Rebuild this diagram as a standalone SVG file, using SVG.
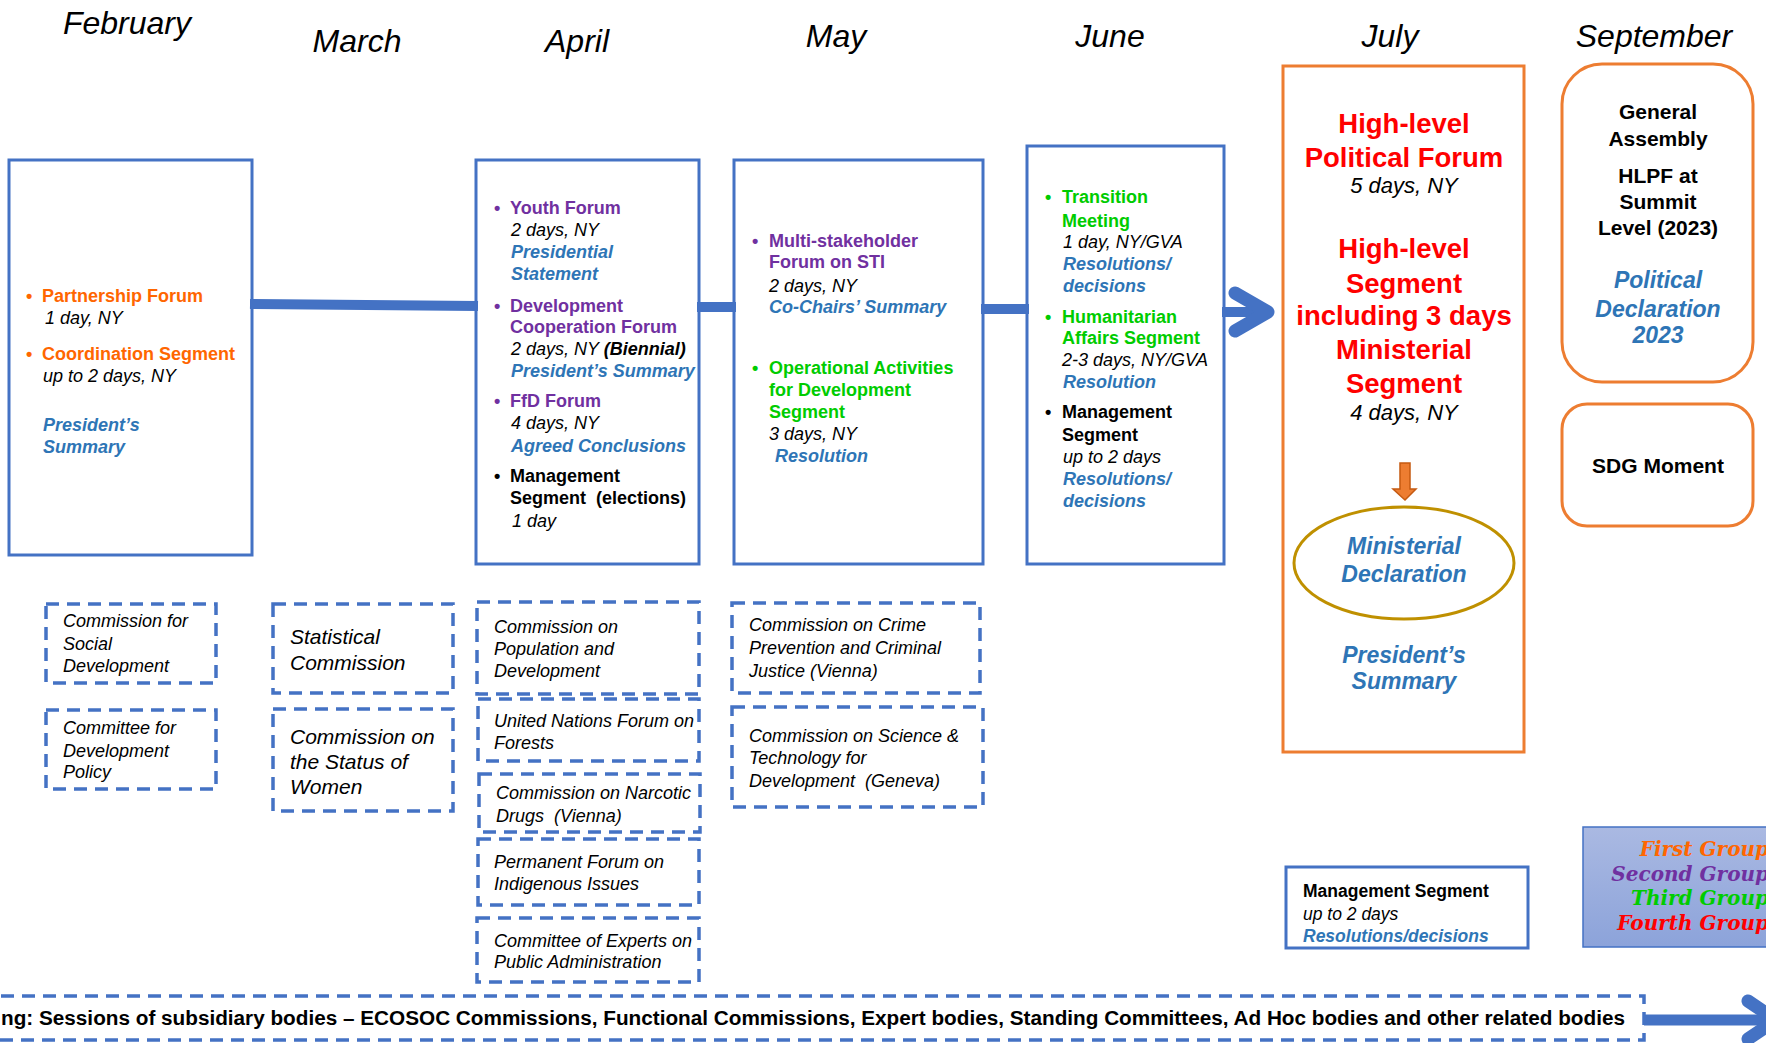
<svg xmlns="http://www.w3.org/2000/svg" width="1766" height="1043" viewBox="0 0 1766 1043">
<defs>
<style>
text{font-family:"Liberation Sans",Arial,sans-serif;white-space:pre;}
.mon{font-size:32px;font-style:italic;text-anchor:middle;fill:#000;}
.box{fill:#fff;stroke:#4472C4;stroke-width:3;}
.dash{fill:none;stroke:#4472C4;stroke-width:3.5;stroke-dasharray:13 8;}
.t{font-size:18px;}
.b{font-weight:bold;}
.i{font-style:italic;}
.bi{font-weight:bold;font-style:italic;fill:#2E75B6;}
.or{fill:#FF6600;}
.pu{fill:#7030A0;}
.gr{fill:#00CC00;}
.rd{fill:#FF0000;}
.sub{font-size:18px;font-style:italic;fill:#000;}
.sub21{font-size:21px;font-style:italic;fill:#000;}
.ctr{text-anchor:middle;}
.conn{stroke:#4472C4;fill:none;}
.leg{font-family:"DejaVu Serif","Liberation Serif",serif;font-weight:bold;font-style:italic;font-size:20px;text-anchor:end;}
</style>
<linearGradient id="lg" x1="0" y1="0" x2="0" y2="1">
<stop offset="0" stop-color="#AAB9E2"/>
<stop offset="1" stop-color="#8CA3DA"/>
</linearGradient>
</defs>
<rect width="1766" height="1043" fill="#fff"/>

<g id="months">
<text class="mon" x="127" y="34">February</text>
<text class="mon" x="357" y="52">March</text>
<text class="mon" x="577" y="52">April</text>
<text class="mon" x="836" y="47">May</text>
<text class="mon" x="1110" y="47">June</text>
<text class="mon" x="1390" y="47">July</text>
<text class="mon" x="1654" y="47">September</text>
</g>

<g id="feb">
<rect class="box" x="9" y="160" width="243" height="395"/>
<text class="t b or" x="26" y="302">•</text>
<text class="t b or" x="42" y="302">Partnership Forum</text>
<text class="t i" x="45" y="324">1 day, NY</text>
<text class="t b or" x="26" y="360">•</text>
<text class="t b or" x="42" y="360">Coordination Segment</text>
<text class="t i" x="43" y="382">up to 2 days, NY</text>
<text class="t bi" x="43" y="431">President’s</text>
<text class="t bi" x="43" y="453">Summary</text>
</g>

<g id="april">
<rect class="box" x="476" y="160" width="223" height="404"/>
<text class="t b pu" x="494" y="214">•</text>
<text class="t b pu" x="510" y="214">Youth Forum</text>
<text class="t i" x="511" y="236">2 days, NY</text>
<text class="t bi" x="511" y="258">Presidential</text>
<text class="t bi" x="511" y="280">Statement</text>
<text class="t b pu" x="494" y="312">•</text>
<text class="t b pu" x="510" y="312">Development</text>
<text class="t b pu" x="510" y="333">Cooperation Forum</text>
<text class="t i" x="511" y="355">2 days, NY <tspan class="b">(Biennial)</tspan></text>
<text class="t bi" x="511" y="377">President’s Summary</text>
<text class="t b pu" x="494" y="407">•</text>
<text class="t b pu" x="510" y="407">FfD Forum</text>
<text class="t i" x="511" y="429">4 days, NY</text>
<text class="t bi" x="511" y="452">Agreed Conclusions</text>
<text class="t b" x="494" y="482">•</text>
<text class="t b" x="510" y="482">Management</text>
<text class="t b" x="510" y="504">Segment  (elections)</text>
<text class="t i" x="512" y="527">1 day</text>
</g>

<g id="may">
<rect class="box" x="734" y="160" width="249" height="404"/>
<text class="t b pu" x="752" y="247">•</text>
<text class="t b pu" x="769" y="247">Multi-stakeholder</text>
<text class="t b pu" x="769" y="268">Forum on STI</text>
<text class="t i" x="769" y="292">2 days, NY</text>
<text class="t bi" x="769" y="313">Co-Chairs’ Summary</text>
<text class="t b gr" x="752" y="374">•</text>
<text class="t b gr" x="769" y="374">Operational Activities</text>
<text class="t b gr" x="769" y="396">for Development</text>
<text class="t b gr" x="769" y="418">Segment</text>
<text class="t i" x="769" y="440">3 days, NY</text>
<text class="t bi" x="775" y="462">Resolution</text>
</g>

<g id="june">
<rect class="box" x="1027" y="146" width="197" height="418"/>
<text class="t b gr" x="1045" y="203">•</text>
<text class="t b gr" x="1062" y="203">Transition</text>
<text class="t b gr" x="1062" y="227">Meeting</text>
<text class="t i" x="1063" y="248">1 day, NY/GVA</text>
<text class="t bi" x="1063" y="270">Resolutions/</text>
<text class="t bi" x="1063" y="292">decisions</text>
<text class="t b gr" x="1045" y="323">•</text>
<text class="t b gr" x="1062" y="323">Humanitarian</text>
<text class="t b gr" x="1062" y="344">Affairs Segment</text>
<text class="t i" x="1062" y="366">2-3 days, NY/GVA</text>
<text class="t bi" x="1063" y="388">Resolution</text>
<text class="t b" x="1045" y="418">•</text>
<text class="t b" x="1062" y="418">Management</text>
<text class="t b" x="1062" y="441">Segment</text>
<text class="t i" x="1063" y="463">up to 2 days</text>
<text class="t bi" x="1063" y="485">Resolutions/</text>
<text class="t bi" x="1063" y="507">decisions</text>
</g>

<g id="july">
<rect x="1283" y="66" width="241" height="686" fill="#fff" stroke="#ED7D31" stroke-width="3"/>
<text class="b rd ctr" font-size="27.5" x="1404" y="133">High-level</text>
<text class="b rd ctr" font-size="27.5" x="1404" y="167">Political Forum</text>
<text class="i ctr" font-size="22" x="1404" y="193">5 days, NY</text>
<text class="b rd ctr" font-size="27.5" x="1404" y="258">High-level</text>
<text class="b rd ctr" font-size="27.5" x="1404" y="293">Segment</text>
<text class="b rd ctr" font-size="27.5" x="1404" y="325">including 3 days</text>
<text class="b rd ctr" font-size="27.5" x="1404" y="359">Ministerial</text>
<text class="b rd ctr" font-size="27.5" x="1404" y="393">Segment</text>
<text class="i ctr" font-size="22" x="1404" y="420">4 days, NY</text>
<text class="bi ctr" font-size="23" x="1404" y="663">President’s</text>
<text class="bi ctr" font-size="23" x="1404" y="689">Summary</text>
</g>

<g id="ministerial-declaration">
<ellipse cx="1404" cy="563" rx="110" ry="56" fill="none" stroke="#BF9000" stroke-width="3"/>
<text class="bi ctr" font-size="23" x="1404" y="554">Ministerial</text>
<text class="bi ctr" font-size="23" x="1404" y="582">Declaration</text>
</g>

<g id="september">
<rect x="1562" y="64" width="191" height="318" rx="40" ry="40" fill="#fff" stroke="#ED7D31" stroke-width="3"/>
<text class="b ctr" font-size="21" x="1658" y="119">General</text>
<text class="b ctr" font-size="21" x="1658" y="146">Assembly</text>
<text class="b ctr" font-size="21" x="1658" y="183">HLPF at</text>
<text class="b ctr" font-size="21" x="1658" y="209">Summit</text>
<text class="b ctr" font-size="21" x="1658" y="235">Level (2023)</text>
<text class="bi ctr" font-size="23" x="1658" y="288">Political</text>
<text class="bi ctr" font-size="23" x="1658" y="317">Declaration</text>
<text class="bi ctr" font-size="23" x="1658" y="343">2023</text>
</g>

<g id="sdg-moment">
<rect x="1562" y="404" width="191" height="122" rx="25" ry="25" fill="#fff" stroke="#ED7D31" stroke-width="3"/>
<text class="b ctr" font-size="21" x="1658" y="473">SDG Moment</text>
</g>

<g id="csocd">
<rect class="dash" x="46" y="604" width="170" height="79"/>
<text class="sub" x="63" y="627">Commission for</text>
<text class="sub" x="63" y="650">Social</text>
<text class="sub" x="63" y="672">Development</text>
</g>
<g id="cdp">
<rect class="dash" x="46" y="710" width="170" height="79"/>
<text class="sub" x="63" y="734">Committee for</text>
<text class="sub" x="63" y="757">Development</text>
<text class="sub" x="63" y="778">Policy</text>
</g>
<g id="statcom">
<rect class="dash" x="273" y="604" width="180" height="89"/>
<text class="sub21" x="290" y="644">Statistical</text>
<text class="sub21" x="290" y="670">Commission</text>
</g>
<g id="csw">
<rect class="dash" x="273" y="709" width="180" height="102"/>
<text class="sub21" x="290" y="744">Commission on</text>
<text class="sub21" x="290" y="769">the Status of</text>
<text class="sub21" x="290" y="794">Women</text>
</g>
<g id="cpd">
<rect class="dash" x="477" y="602" width="222" height="92"/>
<text class="sub" x="494" y="633">Commission on</text>
<text class="sub" x="494" y="655">Population and</text>
<text class="sub" x="494" y="677">Development</text>
</g>
<g id="unff">
<rect class="dash" x="478" y="699" width="221" height="62"/>
<text class="sub" x="494" y="727">United Nations Forum on</text>
<text class="sub" x="494" y="749">Forests</text>
</g>
<g id="cnd">
<rect class="dash" x="479" y="774" width="221" height="58"/>
<text class="sub" x="496" y="799">Commission on Narcotic</text>
<text class="sub" x="496" y="822">Drugs  (Vienna)</text>
</g>
<g id="pfii">
<rect class="dash" x="478" y="839" width="221" height="66"/>
<text class="sub" x="494" y="868">Permanent Forum on</text>
<text class="sub" x="494" y="890">Indigenous Issues</text>
</g>
<g id="cepa">
<rect class="dash" x="477" y="918" width="222" height="64"/>
<text class="sub" x="494" y="947">Committee of Experts on</text>
<text class="sub" x="494" y="968">Public Administration</text>
</g>
<g id="ccpcj">
<rect class="dash" x="732" y="603" width="248" height="90"/>
<text class="sub" x="749" y="631">Commission on Crime</text>
<text class="sub" x="749" y="654">Prevention and Criminal</text>
<text class="sub" x="749" y="677">Justice (Vienna)</text>
</g>
<g id="cstd">
<rect class="dash" x="732" y="707" width="251" height="100"/>
<text class="sub" x="749" y="742">Commission on Science &amp;</text>
<text class="sub" x="749" y="764">Technology for</text>
<text class="sub" x="749" y="787">Development  (Geneva)</text>
</g>

<g id="management-segment">
<rect class="box" x="1286" y="867" width="242" height="81"/>
<text class="b" font-size="17.5" x="1303" y="897">Management Segment</text>
<text class="i" font-size="17.5" x="1303" y="920">up to 2 days</text>
<text class="bi" font-size="17.5" x="1303" y="942">Resolutions/decisions</text>
</g>

<g id="legend">
<rect x="1583" y="827" width="200" height="120" fill="url(#lg)" stroke="#4472C4" stroke-width="1.5"/>
<text class="leg or" x="1769" y="856">First Group</text>
<text class="leg pu" x="1769" y="881">Second Group</text>
<text class="leg gr" x="1769" y="905">Third Group</text>
<text class="leg rd" x="1769" y="930">Fourth Group</text>
</g>

<g id="subsidiary-bodies">
<rect class="dash" x="-20" y="996" width="1664" height="44"/>
<text class="b" font-size="20" x="1" y="1025" textLength="1624" lengthAdjust="spacingAndGlyphs">ng: Sessions of subsidiary bodies – ECOSOC Commissions, Functional Commissions, Expert bodies, Standing Committees, Ad Hoc bodies and other related bodies</text>
</g>

<g id="connectors">
<line class="conn" x1="250" y1="304" x2="478" y2="306" stroke-width="10"/>
<line class="conn" x1="697" y1="307" x2="736" y2="307" stroke-width="10"/>
<line class="conn" x1="981" y1="309" x2="1029" y2="309" stroke-width="10"/>
<line class="conn" x1="1222" y1="312" x2="1262" y2="312" stroke-width="10"/>
<path class="conn" d="M1235,293 L1268,312 L1235,331" stroke-width="13" stroke-linecap="round" stroke-linejoin="round"/>
<path d="M1400,463 H1410 V489 H1416 L1405,500 L1393,489 H1400 Z" fill="#ED7D31" stroke="#C55A11" stroke-width="1.5"/>
<line class="conn" x1="1644" y1="1020" x2="1766" y2="1020" stroke-width="11"/>
<path class="conn" d="M1748,1001 L1776,1020 L1748,1039" stroke-width="13" stroke-linecap="round" stroke-linejoin="round"/>
</g>
</svg>
